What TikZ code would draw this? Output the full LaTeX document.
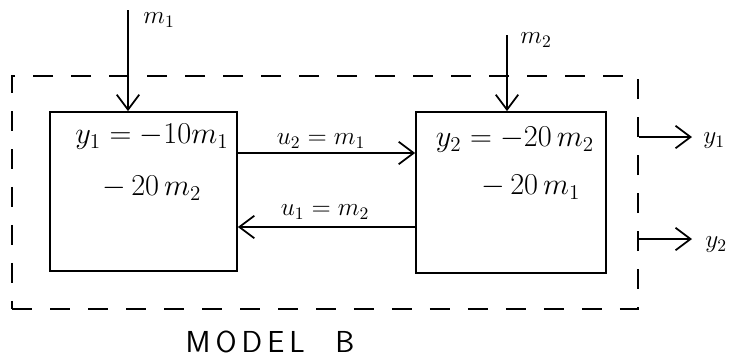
\documentclass[tikz,border=0pt]{standalone}
\usetikzlibrary{arrows.meta}
\tikzset{
  blk/.style={draw, line width=1pt, minimum width=3.74cm, minimum height=3.18cm, inner sep=0pt},
  sig/.style={line width=1pt, -{Straight Barb[length=3mm,width=4.5mm]}},
  eqn/.style={font=\LARGE, inner sep=0pt},
  lbl/.style={font=\Large, inner sep=0pt}
}
\begin{document}
\begin{tikzpicture}[x=0.02cm, y=-0.02cm]
  \useasboundingbox (0,0) rectangle (738,363);
  % outer boundary of the model
  \node[draw, dash pattern=on 0.4cm off 0.36cm, line width=1pt, minimum width=12.52cm, minimum height=4.66cm, inner sep=0pt] (modelB) at (325,192.5) {};
  \node[font=\LARGE\sffamily] (title) at (270,342) {M\,O\,D\,E\,L\quad B};
  % the two blocks
  \node[blk] (box1) at (143.5,191.5) {};
  \node[blk, minimum width=3.8cm, minimum height=3.22cm] (box2) at (511,192.5) {};
  \node[eqn] (eq1a) at (152,137) {$y_1 = -10m_1$};
  \node[eqn] (eq1b) at (152,188) {$-\,20\,m_2$};
  \node[eqn] (eq2a) at (515,140) {$y_2 = -20\,m_2$};
  \node[eqn] (eq2b) at (531,187) {$-\,20\,m_1$};
  % coupling
  \coordinate (upper) at (0,153);
  \coordinate (lower) at (0,227);
  \draw[sig] (box1.east |- upper) -- (box2.west |- upper);
  \draw[sig] (box2.west |- lower) -- (box1.east |- lower);
  \node[lbl] (u2) at (321,141) {$u_2 = m_1$};
  \node[lbl] (u1) at (325,212) {$u_1 = m_2$};
  % inputs
  \coordinate (m1top) at (128,10);
  \coordinate (m2top) at (507,35);
  \draw[sig] (m1top) -- (m1top |- box1.north);
  \draw[sig] (m2top) -- (m2top |- box2.north);
  \node[lbl, anchor=west] (m1) at (143,20) {$m_1$};
  \node[lbl, anchor=west] (m2) at (520,40) {$m_2$};
  % outputs
  \coordinate (y1end) at (692,137);
  \coordinate (y2end) at (692,239);
  \draw[sig] (modelB.east |- y1end) -- (y1end);
  \draw[sig] (modelB.east |- y2end) -- (y2end);
  \node[lbl, anchor=west] (y1) at (703,141) {$y_1$};
  \node[lbl, anchor=west] (y2) at (705,245) {$y_2$};
\end{tikzpicture}
\end{document}
